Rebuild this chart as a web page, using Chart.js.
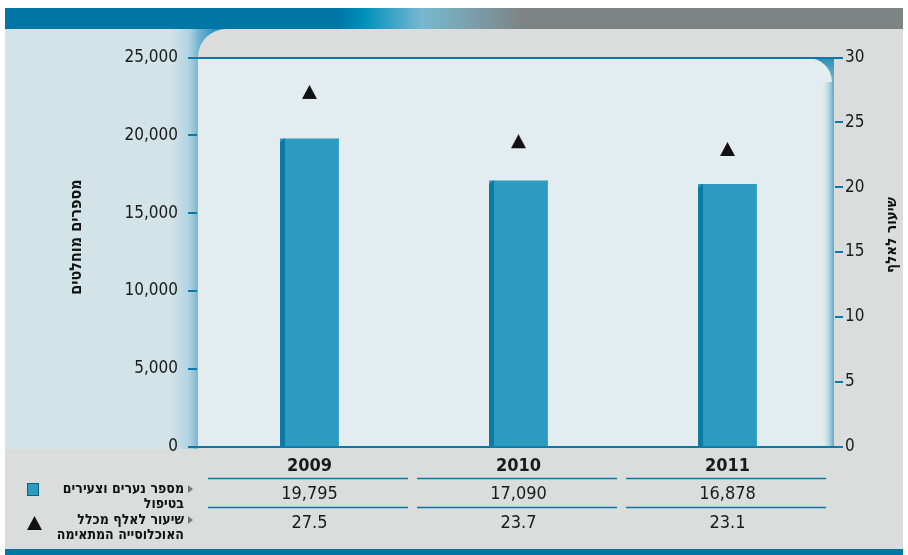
<!DOCTYPE html>
<html lang="he">
<head>
<meta charset="utf-8">
<script src="https://cdn.jsdelivr.net/npm/chart.js@4/dist/chart.umd.min.js"></script>
<style>body{margin:0;background:#fff}</style>
</head>
<body>
<canvas id="chart" width="908" height="555"></canvas>
<script>
const years = ['2009', '2010', '2011'];
const youthCounts = [19795, 17090, 16878];
const ratePerThousand = [27.5, 23.7, 23.1];
const countTicks = [0, 5000, 10000, 15000, 20000, 25000];
const rateTicks = [0, 5, 10, 15, 20, 25, 30];
const countLabel = ['מספר נערים וצעירים', 'בטיפול'];
const rateLabel = ['שיעור לאלף מכלל', 'האוכלוסייה המתאימה'];
const leftTitle = 'מספרים מוחלטים';
const rightTitle = 'שיעור לאלף';

const NARROW = "'DejaVu Sans Condensed', 'Liberation Sans Narrow', sans-serif";
const BLUE = '#0a78a8';
const BAR = '#2b9bc0';

// triangle marker, drawn a bit low in its box like the original
const tri = document.createElement('canvas');
tri.width = 15;
tri.height = 22;
(() => {
  const c = tri.getContext('2d');
  c.fillStyle = '#111';
  c.beginPath();
  c.moveTo(7.5, 6);
  c.lineTo(15, 20);
  c.lineTo(0, 20);
  c.closePath();
  c.fill();
})();

// panels and strips behind the plot
const backdrop = {
  id: 'backdrop',
  beforeDraw(chart) {
    const ctx = chart.ctx;
    ctx.save();
    ctx.fillStyle = '#fff';
    ctx.fillRect(0, 0, 908, 555);

    // top banner
    let g = ctx.createLinearGradient(5, 0, 903, 0);
    g.addColorStop(0, '#0176a5');
    g.addColorStop(0.37, '#0176a5');
    g.addColorStop(0.40, '#0090bd');
    g.addColorStop(0.465, '#78b8d0');
    g.addColorStop(0.58, '#7d8282');
    g.addColorStop(1, '#7d8282');
    ctx.fillStyle = g;
    ctx.fillRect(5, 8, 898, 21);

    // gray base
    ctx.fillStyle = '#dadddc';
    ctx.fillRect(5, 29, 898, 521);

    // left light-blue panel with gradient edge
    ctx.fillStyle = '#d3e4e8';
    ctx.fillRect(5, 29, 230, 420);
    g = ctx.createLinearGradient(170, 0, 218, 0);
    g.addColorStop(0, 'rgba(211,228,232,1)');
    g.addColorStop(0.4, '#b0d3e1');
    g.addColorStop(0.6, '#72b3d0');
    g.addColorStop(1, '#1a8cbf');
    ctx.fillStyle = g;
    ctx.fillRect(170, 29, 65, 420);

    // gray shape with rounded corner
    ctx.fillStyle = '#dadddc';
    ctx.beginPath();
    ctx.roundRect(198, 29, 705, 521, [28, 0, 0, 0]);
    ctx.fill();

    // right strip behind the panel corner
    g = ctx.createLinearGradient(0, 58, 0, 90);
    g.addColorStop(0, '#2a8fb8');
    g.addColorStop(1, 'rgba(90,168,201,0.6)');
    ctx.fillStyle = g;
    ctx.fillRect(808, 58, 26, 32);

    // light plot panel
    ctx.fillStyle = '#e3ecee';
    ctx.beginPath();
    ctx.roundRect(198, 58, 634, 389, [0, 24, 0, 0]);
    ctx.fill();

    g = ctx.createLinearGradient(821, 0, 834, 0);
    g.addColorStop(0, 'rgba(227,236,238,0)');
    g.addColorStop(1, '#5aa8c9');
    ctx.fillStyle = g;
    ctx.fillRect(821, 82, 13, 365);

    // bottom band
    ctx.fillStyle = '#0176a5';
    ctx.fillRect(5, 549, 898, 6);
    ctx.restore();
  }
};

// axis lines, tick marks and rotated titles
const axes = {
  id: 'axes',
  beforeDatasetsDraw(chart) {
    const ctx = chart.ctx;
    const y = chart.scales.y, y1 = chart.scales.y1;
    ctx.save();
    ctx.strokeStyle = BLUE;
    ctx.lineWidth = 2;
    ctx.beginPath();
    for (const v of [countTicks[0], countTicks[countTicks.length - 1]]) {
      const py = Math.round(y.getPixelForValue(v));
      ctx.moveTo(189, py);
      ctx.lineTo(843, py);
    }
    for (const v of countTicks) {
      const py = Math.round(y.getPixelForValue(v));
      ctx.moveTo(188, py);
      ctx.lineTo(197, py);
    }
    for (const v of rateTicks) {
      const py = Math.round(y1.getPixelForValue(v));
      ctx.moveTo(835, py);
      ctx.lineTo(843, py);
    }
    ctx.stroke();

    ctx.fillStyle = '#111';
    ctx.textAlign = 'center';
    ctx.textBaseline = 'middle';
    ctx.direction = 'rtl';
    const titles = [[leftTitle, 77, 237, 16], [rightTitle, 892, 235, 15]];
    for (const [t, x, cy, size] of titles) {
      ctx.font = 'bold ' + size + 'px ' + NARROW;
      ctx.save();
      ctx.translate(x, cy);
      ctx.rotate(-Math.PI / 2);
      ctx.fillText(t, 0, 0);
      ctx.restore();
    }
    ctx.restore();
  }
};

// darker left face of each bar
const barSide = {
  id: 'barSide',
  afterDatasetDraw(chart, args) {
    if (args.index !== 0) return;
    const ctx = chart.ctx;
    ctx.save();
    for (const bar of chart.getDatasetMeta(0).data) {
      const l = bar.x - bar.width / 2;
      ctx.fillStyle = '#0a7aa3';
      ctx.beginPath();
      ctx.moveTo(l, bar.base);
      ctx.lineTo(l, bar.y + 4);
      ctx.lineTo(l + 4, bar.y);
      ctx.lineTo(l + 5, bar.y);
      ctx.lineTo(l + 5, bar.base);
      ctx.closePath();
      ctx.fill();
      ctx.fillStyle = '#3aa7ca';
      ctx.fillRect(bar.x + bar.width / 2 - 1, bar.y, 1, bar.base - bar.y);
    }
    ctx.restore();
  }
};

// data table and legend under the plot
const table = {
  id: 'table',
  afterDraw(chart) {
    const ctx = chart.ctx;
    const x = chart.scales.x;
    const half = (x.getPixelForValue(1) - x.getPixelForValue(0)) / 2;
    ctx.save();
    ctx.fillStyle = '#1a1a1a';
    ctx.textAlign = 'center';
    ctx.textBaseline = 'middle';
    years.forEach((yr, i) => {
      const cx = x.getPixelForValue(i);
      ctx.font = "bold 18px " + NARROW;
      ctx.fillText(yr, cx, 466);
      ctx.font = "18px " + NARROW;
      ctx.fillText(youthCounts[i].toLocaleString('en-US'), cx, 494);
      ctx.fillText(ratePerThousand[i].toFixed(1), cx, 523);
      ctx.strokeStyle = BLUE;
      ctx.lineWidth = 1.5;
      ctx.beginPath();
      for (const ly of [478.5, 507.5]) {
        ctx.moveTo(cx - half + 3, ly);
        ctx.lineTo(cx + half - 6, ly);
      }
      ctx.stroke();
    });

    // legend
    ctx.fillStyle = BAR;
    ctx.fillRect(27, 483, 12, 13);
    ctx.strokeStyle = '#0a5f80';
    ctx.lineWidth = 1;
    ctx.strokeRect(27.5, 483.5, 11, 12);
    ctx.drawImage(tri, 27, 510);

    ctx.fillStyle = '#777';
    for (const ay of [489, 520]) {
      ctx.beginPath();
      ctx.moveTo(188, ay - 4);
      ctx.lineTo(193, ay);
      ctx.lineTo(188, ay + 4);
      ctx.closePath();
      ctx.fill();
    }

    ctx.fillStyle = '#111';
    ctx.font = "bold 14px " + NARROW;
    ctx.direction = 'rtl';
    ctx.textAlign = 'right';
    ctx.fillText(countLabel[0], 184, 489);
    ctx.fillText(countLabel[1], 184, 504);
    ctx.fillText(rateLabel[0], 184, 520);
    ctx.fillText(rateLabel[1], 184, 535);
    ctx.restore();
  }
};

new Chart(document.getElementById('chart'), {
  data: {
    labels: years,
    datasets: [{
      type: 'bar',
      data: youthCounts,
      yAxisID: 'y',
      backgroundColor: BAR,
      categoryPercentage: 1,
      barPercentage: 0.282,
      order: 2
    }, {
      type: 'line',
      data: ratePerThousand,
      yAxisID: 'y1',
      showLine: false,
      pointStyle: tri,
      order: 1
    }]
  },
  options: {
    responsive: false,
    animation: false,
    devicePixelRatio: 1,
    layout: { padding: { left: 5, right: 0, top: 57.5, bottom: 108.5 } },
    plugins: { legend: { display: false }, tooltip: { enabled: false } },
    scales: {
      x: { display: false },
      y: {
        position: 'left',
        min: 0,
        max: 25000,
        afterFit: s => { s.width = 200; },
        afterBuildTicks: s => { s.ticks = countTicks.map(v => ({ value: v })); },
        grid: { display: false, drawTicks: false },
        border: { display: false },
        ticks: {
          padding: 27,
          color: '#1a1a1a',
          font: { family: NARROW, size: 17 },
          callback: v => v.toLocaleString('en-US')
        }
      },
      y1: {
        position: 'right',
        min: 0,
        max: 30,
        afterFit: s => { s.width = 76; },
        afterBuildTicks: s => { s.ticks = rateTicks.map(v => ({ value: v })); },
        grid: { display: false, drawTicks: false },
        border: { display: false },
        ticks: {
          padding: 13,
          color: '#1a1a1a',
          font: { family: NARROW, size: 17 }
        }
      }
    }
  },
  plugins: [backdrop, axes, barSide, table]
});
</script>
</body>
</html>
